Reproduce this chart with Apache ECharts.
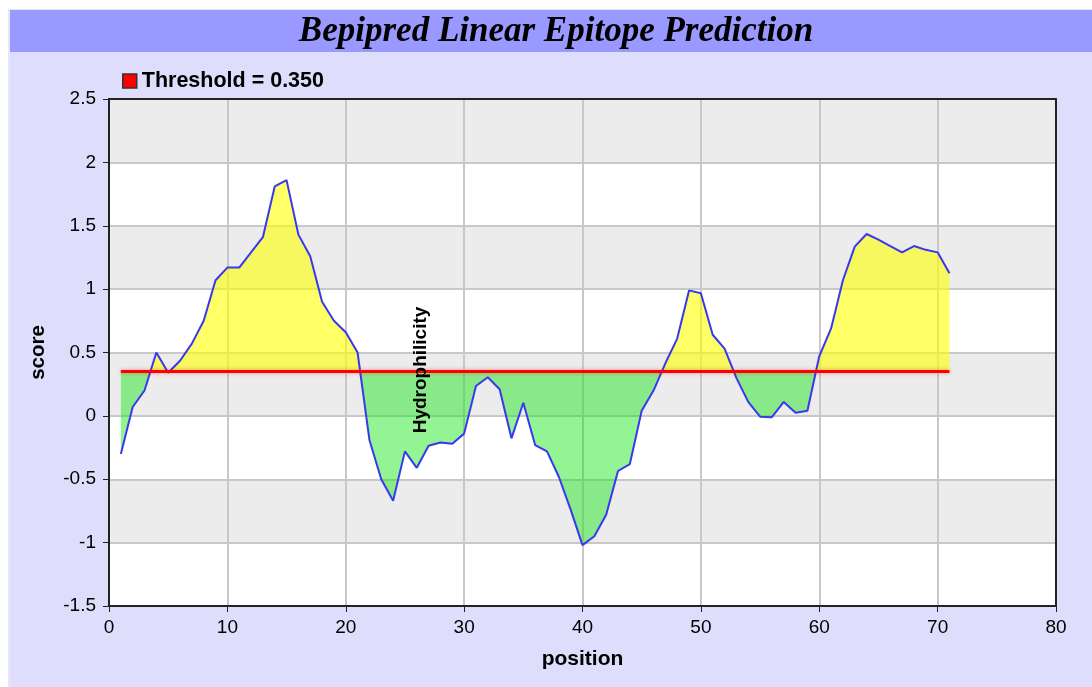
<!DOCTYPE html>
<html>
<head>
<meta charset="utf-8">
<script src="https://cdn.jsdelivr.net/npm/echarts@6/dist/echarts.min.js"></script>
<style>
html,body{margin:0;padding:0;background:#ffffff;}
#main{width:1092px;height:687px;}
</style>
</head>
<body>
<div id="main"></div>
<script>
var titleText = 'Bepipred Linear Epitope Prediction';
var legendLabel = 'Threshold = 0.350';
var threshold = 0.35;
var positions = [1,2,3,4,5,6,7,8,9,10,11,12,13,14,15,16,17,18,19,20,
  21,22,23,24,25,26,27,28,29,30,31,32,33,34,35,36,37,38,39,40,
  41,42,43,44,45,46,47,48,49,50,51,52,53,54,55,56,57,58,59,60,
  61,62,63,64,65,66,67,68,69,70,71];
var scores = [-0.30,0.07,0.20,0.50,0.34,0.435,0.57,0.75,1.07,1.17,
  1.17,1.29,1.41,1.81,1.86,1.43,1.26,0.90,0.75,0.66,
  0.50,-0.19,-0.50,-0.67,-0.28,-0.41,-0.235,-0.21,-0.22,-0.14,
  0.236,0.305,0.21,-0.177,0.104,-0.23,-0.28,-0.48,-0.74,-1.02,
  -0.95,-0.78,-0.435,-0.38,0.04,0.20,0.415,0.61,0.99,0.967,
  0.64,0.53,0.30,0.11,-0.006,-0.01,0.11,0.025,0.04,0.47,
  0.69,1.07,1.335,1.435,1.39,1.34,1.29,1.34,1.31,1.29,1.125];
var thresholdStart = 1, thresholdEnd = 71;
var xTicks = {min:0, max:80, interval:10};
var yTicks = {min:-1.5, max:2.5, interval:0.5};
var xName = 'position', yName = 'score', noteText = 'Hydrophilicity';

var pts = positions.map(function(p,i){return [p, scores[i]];});
var chart = echarts.init(document.getElementById('main'), null, {renderer:'canvas'});
var FONT = 'Liberation Sans, Arial, sans-serif';
var YELLOW = 'rgba(255,255,0,0.6)', GREEN = 'rgba(10,230,10,0.44)';
var GRID = {left:109, right:36, top:99, bottom:81};
var frameAxis = {show:true, axisLine:{show:true, onZero:false, lineStyle:{color:'#222', width:2}},
  axisTick:{show:false}, axisLabel:{show:false}, splitLine:{show:false}};
var tFrac = (yTicks.max - threshold) / (yTicks.max - yTicks.min);
var plotTop = GRID.top, plotBottom = 687 - GRID.bottom;
var areaFill = new echarts.graphic.LinearGradient(0, plotTop, 0, plotBottom, [
  {offset:0, color:YELLOW}, {offset:tFrac, color:YELLOW},
  {offset:tFrac, color:GREEN}, {offset:1, color:GREEN}], true);
chart.setOption({
  animation:false,
  backgroundColor:'#ffffff',
  graphic:[
    {type:'rect', left:8, top:9, shape:{width:1084, height:678}, style:{fill:'#e6e6fb'}, z:-10, silent:true},
    {type:'rect', left:10, top:10, shape:{width:1082, height:677}, style:{fill:'#dedefc'}, z:-9, silent:true},
    {type:'rect', left:10, top:10, shape:{width:1082, height:42}, style:{fill:'#9999ff'}, z:-8, silent:true},
    {type:'text', x:556, y:32, style:{text:titleText, fill:'#000', font:'italic bold 35px "Liberation Serif", "Times New Roman", serif', align:'center', verticalAlign:'middle'}, z:10},
    {type:'text', x:421, y:370, rotation:Math.PI/2, style:{text:noteText, fill:'#000', font:'bold 19px '+FONT, align:'center', verticalAlign:'middle'}, z:100}
  ],
  legend:{
    left:122, top:70, padding:0, itemWidth:14, itemHeight:14, itemGap:8,
    textStyle:{fontFamily:FONT, fontWeight:'bold', fontSize:21.5, color:'#000'},
    data:[{name:legendLabel, icon:'rect', itemStyle:{color:'#ff0000', borderColor:'#333', borderWidth:1.5}}]
  },
  grid:{left:GRID.left, right:GRID.right, top:GRID.top, bottom:GRID.bottom, show:false},
  xAxis:[{
    type:'value', min:xTicks.min, max:xTicks.max, interval:xTicks.interval,
    name:xName, nameLocation:'middle', nameGap:43,
    nameTextStyle:{fontFamily:FONT, fontWeight:'bold', fontSize:21, color:'#000'},
    axisLine:{show:true, onZero:false, lineStyle:{color:'#222', width:2}},
    axisTick:{show:true, length:6, lineStyle:{color:'#222', width:1}},
    axisLabel:{fontFamily:FONT, fontSize:19, color:'#000', margin:12},
    splitLine:{show:true, lineStyle:{color:'#c8c8c8', width:2}}
  }, Object.assign({type:'value', position:'top', min:xTicks.min, max:xTicks.max, interval:xTicks.interval}, frameAxis)],
  yAxis:[{
    type:'value', min:yTicks.min, max:yTicks.max, interval:yTicks.interval,
    name:yName, nameLocation:'middle', nameGap:60, nameRotate:90,
    nameTextStyle:{fontFamily:FONT, fontWeight:'bold', fontSize:20.5, color:'#000'},
    axisLine:{show:true, onZero:false, lineStyle:{color:'#222', width:2}},
    axisTick:{show:true, length:6, lineStyle:{color:'#222', width:1}},
    axisLabel:{fontFamily:FONT, fontSize:19, color:'#000', margin:13},
    splitLine:{show:true, lineStyle:{color:'#c8c8c8', width:2}},
    splitArea:{show:true, areaStyle:{color:['#ffffff','#ececec']}}
  }, Object.assign({type:'value', position:'right', min:yTicks.min, max:yTicks.max, interval:yTicks.interval}, frameAxis)],
  series:[
    {type:'line', name:'area', data:pts, symbol:'none', silent:true,
     lineStyle:{width:0, opacity:0},
     areaStyle:{origin:threshold, color:areaFill, opacity:1}, z:2},
    {type:'line', name:'score', data:pts, symbol:'none', silent:true,
     lineStyle:{color:'#3838ee', width:2}, itemStyle:{color:'#3838ee'}, z:3},
    {type:'line', name:legendLabel, data:[[thresholdStart,threshold],[thresholdEnd,threshold]], symbol:'none', silent:true,
     lineStyle:{color:'#ff0000', width:3, shadowColor:'rgba(255,0,0,0.4)', shadowBlur:4}, itemStyle:{color:'#ff0000'}, z:4}
  ]
});
</script>
</body>
</html>
